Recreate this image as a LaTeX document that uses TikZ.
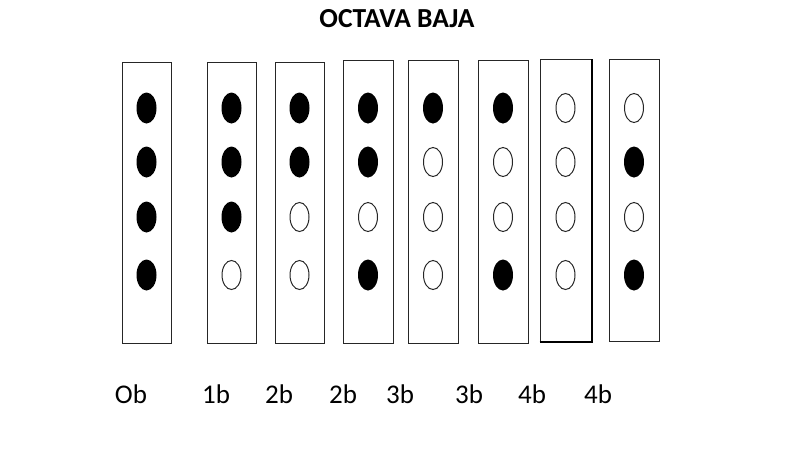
\documentclass[tikz,border=0pt]{standalone}
\usepackage{fontspec}
\setmainfont{Carlito}
\usetikzlibrary{shapes.geometric}
\begin{document}
\begin{tikzpicture}[x=1pt,y=-1pt,
  tube/.style={draw=black!85,line width=1pt,fill=white,inner sep=0pt},
  holefull/.style={ellipse,fill=black,inner sep=0pt,minimum width=20pt,minimum height=31pt},
  holeopen/.style={ellipse,draw=black!85,line width=1pt,fill=white,inner sep=0pt,minimum width=19pt,minimum height=29pt},
  lbl/.style={font=\fontsize{27}{31}\selectfont,anchor=base,inner sep=0pt},
  ttl/.style={font=\bfseries\fontsize{27.5}{32}\selectfont,anchor=base,inner sep=0pt}]
\useasboundingbox (0,0) rectangle (790,474);
\node[ttl] (title) at (397,27) {OCTAVA BAJA};
\foreach \i/\l/\r/\t/\b/\lx/\txt/\pa/\pb/\pc/\pd in {
  1/122/171/62/343/131/Ob/1/1/1/1,
  2/207/256/62/343/216/1b/1/1/1/0,
  3/275/324/62/343/279/2b/1/1/0/0,
  4/343/393/60/343/343/2b/1/1/0/1,
  5/408/458/60/343/400/3b/1/0/0/0,
  6/478/528/60/343/469/3b/1/0/0/1,
  7/540/591/59/341/532/4b/0/0/0/0,
  8/609/659/59/341/598/4b/0/1/0/1}{
  \pgfmathsetmacro\cx{(\l+\r)/2}
  \pgfmathsetmacro\cy{(\t+\b)/2}
  \pgfmathsetmacro\w{\r-\l}
  \pgfmathsetmacro\h{\b-\t}
  \node[tube,minimum width=\w pt,minimum height=\h pt] (t\i) at (\cx,\cy) {};
  \foreach \k/\yy/\p in {1/108/\pa,2/162/\pb,3/217/\pc,4/275/\pd}{
    \ifnum\p=1
      \node[holefull] (h\i\k) at (\cx,\yy) {};
    \else
      \node[holeopen] (h\i\k) at (\cx,\yy) {};
    \fi
  }
  \node[lbl] (l\i) at (\lx,403) {\txt};
}
\draw[line width=2pt,black] (t7.south west) -- (t7.south east) -- (t7.north east);
\end{tikzpicture}
\end{document}
